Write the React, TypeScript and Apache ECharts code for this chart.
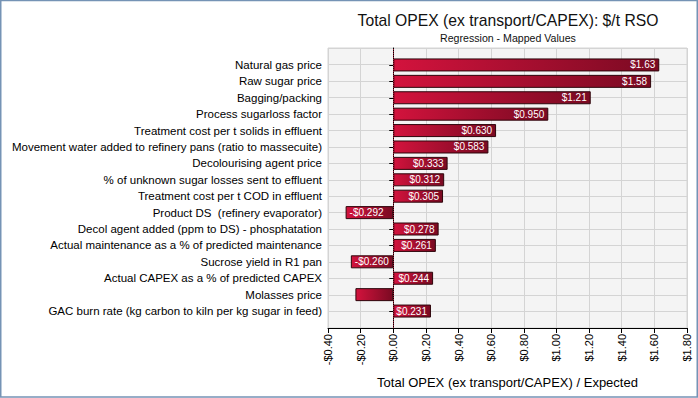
import React, { useEffect, useRef } from "react";
import * as echarts from "echarts";

const categories = [
  "Natural gas price",
  "Raw sugar price",
  "Bagging/packing",
  "Process sugarloss factor",
  "Treatment cost per t solids in effluent",
  "Movement water added to refinery pans (ratio to massecuite)",
  "Decolourising agent price",
  "% of unknown sugar losses sent to effluent",
  "Treatment cost per t COD in effluent",
  "Product DS  (refinery evaporator)",
  "Decol agent added (ppm to DS) - phosphatation",
  "Actual maintenance as a % of predicted maintenance",
  "Sucrose yield in R1 pan",
  "Actual CAPEX as a % of predicted CAPEX",
  "Molasses price",
  "GAC burn rate (kg carbon to kiln per kg sugar in feed)",
];
const values = [1.63, 1.58, 1.21, 0.95, 0.63, 0.583, 0.333, 0.312, 0.305, -0.292, 0.278, 0.261, -0.26, 0.244, -0.232, 0.231];
const labelTexts = ["$1.63", "$1.58", "$1.21", "$0.950", "$0.630", "$0.583", "$0.333", "$0.312", "$0.305", "-$0.292", "$0.278", "$0.261", "-$0.260", "$0.244", "", "$0.231"];
const xMin = -0.4;
const xMax = 1.8;
const xStep = 0.2;

const FONT = "Liberation Sans";

export default function App() {
  const ref = useRef<HTMLDivElement>(null);
  useEffect(() => {
    document.body.style.margin = "0";
    const chart = echarts.init(ref.current!, null, { renderer: "svg" });
    const fmt = (v: number) => (v < 0 ? "-" : "") + "$" + Math.abs(v).toFixed(2);
    const barColor = new echarts.graphic.LinearGradient(0, 0, 1, 0, [
      { offset: 0, color: "#d3133d" },
      { offset: 1, color: "#7a0a22" },
    ]);
    chart.setOption({
      animation: false,
      backgroundColor: "#ffffff",
      textStyle: { fontFamily: FONT },
      grid: [
        { left: 328, right: 11, top: 48, bottom: 70, show: true, backgroundColor: "#f4f4f4", borderColor: "#d4d4d4", borderWidth: 1 },
        { left: 328, right: 11, top: 56.75, height: 262.5 },
      ],
      xAxis: [
        {
          gridIndex: 0,
          type: "value",
          min: xMin,
          max: xMax,
          interval: xStep,
          axisLine: { show: true, onZero: false, lineStyle: { color: "#000" } },
          axisTick: { show: true, length: 5, lineStyle: { color: "#000" } },
          splitLine: { show: true, lineStyle: { color: "#d4d4d4" } },
          axisLabel: { rotate: 90, fontSize: 11, color: "#000", margin: 6, formatter: fmt, fontFamily: FONT },
          name: "Total OPEX (ex transport/CAPEX) / Expected",
          nameLocation: "middle",
          nameGap: 48,
          nameTextStyle: { fontSize: 13, color: "#000", fontFamily: FONT },
        },
        { gridIndex: 1, type: "value", min: xMin, max: xMax, interval: xStep, show: false },
      ],
      yAxis: [
        {
          gridIndex: 0,
          type: "value",
          min: 0,
          max: 17,
          interval: 1,
          axisLine: { show: true, lineStyle: { color: "#000" } },
          axisTick: { show: false },
          axisLabel: { show: false },
          splitLine: { show: true, lineStyle: { color: "#d4d4d4" } },
        },
        {
          gridIndex: 1,
          type: "category",
          inverse: true,
          data: categories,
          axisLine: { show: false },
          axisTick: { show: true, alignWithLabel: true, length: 4, lineStyle: { color: "#000" } },
          axisLabel: { fontSize: 11.5, color: "#000", margin: 6, fontFamily: FONT },
        },
      ],
      series: [
        {
          type: "line",
          xAxisIndex: 0,
          yAxisIndex: 0,
          data: [],
          markLine: {
            silent: true,
            symbol: "none",
            label: { show: false },
            lineStyle: { type: "dotted", color: "#a01c34", width: 1 },
            data: [{ xAxis: 0 }],
          },
        },
        {
          type: "bar",
          xAxisIndex: 1,
          yAxisIndex: 1,
          barWidth: 13,
          itemStyle: { color: barColor, borderColor: "#2e060c", borderWidth: 1 },
          label: { show: true, color: "#fff", fontSize: 10, fontFamily: FONT, distance: 4 },
          data: values.map((v, i) => ({
            value: v,
            label: {
              show: labelTexts[i] !== "",
              position: v < 0 ? "insideLeft" : "insideRight",
              formatter: () => labelTexts[i],
            },
          })),
        },
      ],
      graphic: [
        { type: "text", x: 508, y: 20, style: { text: "Total OPEX (ex transport/CAPEX): $/t RSO", fontSize: 15.7, fontFamily: FONT, fill: "#111", textAlign: "center", textVerticalAlign: "middle" } },
        { type: "text", x: 508, y: 38, style: { text: "Regression - Mapped Values", fontSize: 10.6, fontFamily: FONT, fill: "#111", textAlign: "center", textVerticalAlign: "middle" } },
        { type: "rect", shape: { x: 0.75, y: 0.5, width: 696.5, height: 396.5 }, style: { fill: "none", stroke: "#7593b5", lineWidth: 1.5 }, silent: true },
      ],
    });
    return () => chart.dispose();
  }, []);
  return <div ref={ref} style={{ width: 698, height: 398 }} />;
}
